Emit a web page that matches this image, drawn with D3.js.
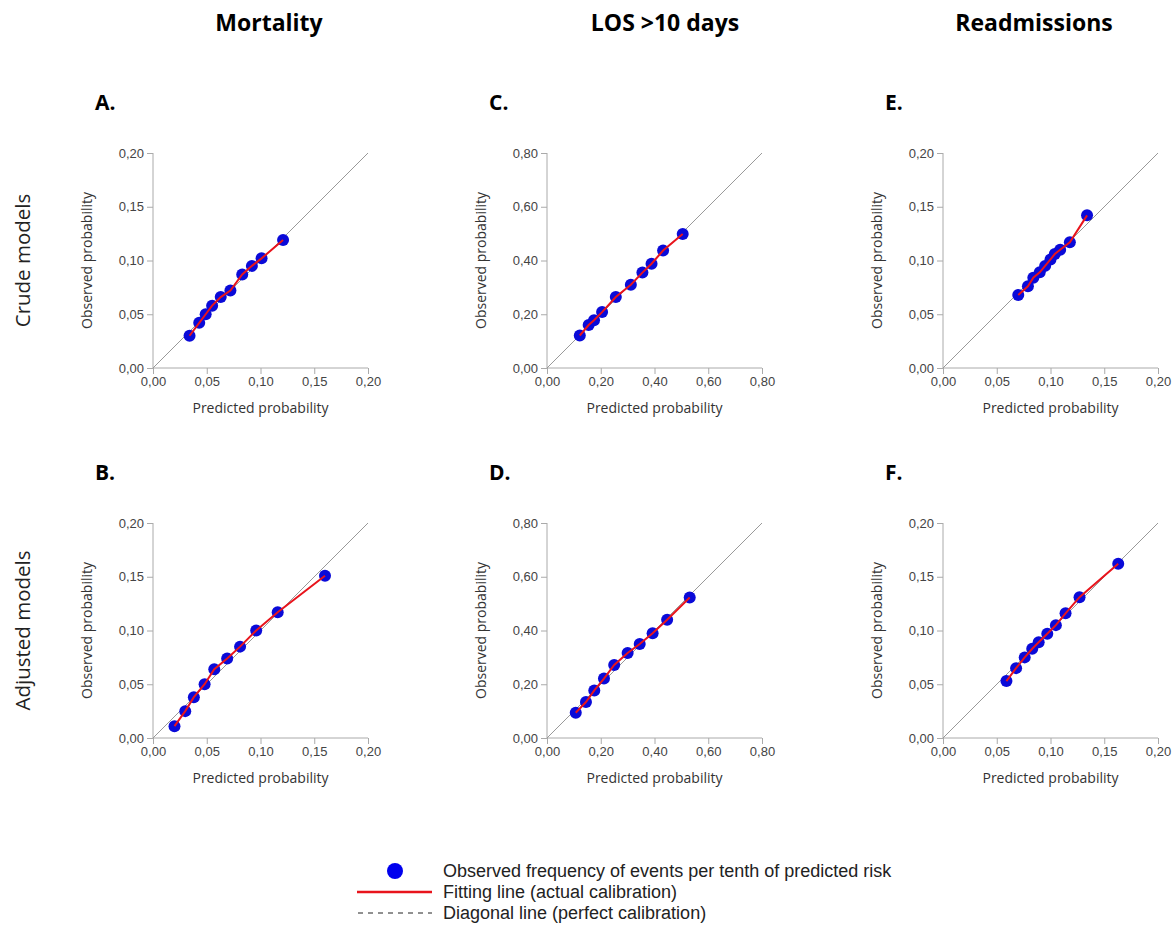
<!DOCTYPE html>
<html>
<head>
<meta charset="utf-8">
<script src="https://cdn.jsdelivr.net/npm/d3@7"></script>
<style>
  body { margin: 0; background: #fff; }
  svg { font-family: "Open Sans", sans-serif; }
  .axis path, .axis line { stroke: #aaa; }
  .axis text { fill: #444; font-size: 13px; }
</style>
</head>
<body>
<svg class="chart" width="1176" height="925"></svg>
<script>
const columnTitles = ["Mortality", "LOS >10 days", "Readmissions"],
      rowTitles = ["Crude models", "Adjusted models"],
      letters = ["A.", "C.", "E.", "B.", "D.", "F."],
      axisMax = [0.20, 0.80, 0.20],
      ticksSmall = [0, 0.05, 0.10, 0.15, 0.20],
      ticksLarge = [0, 0.20, 0.40, 0.60, 0.80],
      legendLabels = ["Observed frequency of events per tenth of predicted risk",
                      "Fitting line (actual calibration)",
                      "Diagonal line (perfect calibration)"]

// observed vs predicted, one pair per tenth of predicted risk
const predA = [0.034, 0.043, 0.049, 0.055, 0.063, 0.072, 0.083, 0.092, 0.101, 0.121],
      obsA  = [0.030, 0.042, 0.050, 0.058, 0.066, 0.072, 0.087, 0.095, 0.102, 0.119]
const predC = [0.122, 0.155, 0.175, 0.205, 0.256, 0.312, 0.355, 0.389, 0.432, 0.505],
      obsC  = [0.121, 0.160, 0.178, 0.208, 0.264, 0.310, 0.355, 0.388, 0.437, 0.499]
const predE = [0.070, 0.079, 0.084, 0.090, 0.095, 0.100, 0.104, 0.109, 0.118, 0.134],
      obsE  = [0.068, 0.076, 0.084, 0.089, 0.095, 0.101, 0.106, 0.110, 0.117, 0.142]
const predB = [0.020, 0.030, 0.038, 0.048, 0.057, 0.069, 0.081, 0.096, 0.116, 0.160],
      obsB  = [0.011, 0.025, 0.038, 0.050, 0.064, 0.074, 0.085, 0.100, 0.117, 0.151]
const predD = [0.107, 0.145, 0.176, 0.212, 0.250, 0.300, 0.345, 0.393, 0.447, 0.531],
      obsD  = [0.094, 0.134, 0.177, 0.221, 0.272, 0.316, 0.350, 0.390, 0.440, 0.523]
const predF = [0.059, 0.068, 0.076, 0.083, 0.089, 0.097, 0.105, 0.114, 0.127, 0.163],
      obsF  = [0.053, 0.065, 0.075, 0.083, 0.089, 0.097, 0.105, 0.116, 0.131, 0.162]

const panels = [
  { pred: predA, obs: obsA }, { pred: predC, obs: obsC }, { pred: predE, obs: obsE },
  { pred: predB, obs: obsB }, { pred: predD, obs: obsD }, { pred: predF, obs: obsF }
]

const locale = d3.formatLocale({ decimal: ",", thousands: ".", grouping: [3], currency: ["", ""] }),
      fmt = locale.format(".2f")

const size = 215,
      colLeft = [153, 547, 943],
      rowTop = [153, 523],
      titleX = [269, 665, 1034]

var chart = d3.select(".chart")

// column titles
chart.selectAll(".col-title")
  .data(columnTitles)
  .join("text")
    .attr("class", "col-title")
    .attr("x", function(d, i) { return titleX[i] })
    .attr("y", 31)
    .attr("text-anchor", "middle")
    .style("font-size", "23px")
    .style("font-weight", "bold")
    .text(function(d) { return d })

// row titles
chart.selectAll(".row-title")
  .data(rowTitles)
  .join("text")
    .attr("class", "row-title")
    .attr("transform", function(d, i) { return "translate(30," + (rowTop[i] + size / 2) + ") rotate(-90)" })
    .attr("text-anchor", "middle")
    .style("font-size", "20.5px")
    .attr("fill", "#222")
    .text(function(d) { return d })

panels.forEach(function(p, k) {
  var col = k % 3, row = Math.floor(k / 3),
      max = axisMax[col],
      ticks = max > 0.5 ? ticksLarge : ticksSmall

  var x = d3.scaleLinear().domain([0, max]).range([0, size]),
      y = d3.scaleLinear().domain([0, max]).range([size, 0])

  var g = chart.append("g")
    .attr("transform", "translate(" + colLeft[col] + "," + rowTop[row] + ")")

  g.append("text")
    .attr("x", -58)
    .attr("y", -43)
    .style("font-size", "21px")
    .style("font-weight", "bold")
    .text(letters[k])

  g.append("g")
    .attr("class", "axis")
    .attr("transform", "translate(0," + size + ")")
    .call(d3.axisBottom(x).tickValues(ticks).tickFormat(fmt).tickSize(6).tickPadding(3))
    .call(function(a) { a.select(".domain").attr("d", "M0,0H" + size) })

  g.append("g")
    .attr("class", "axis")
    .call(d3.axisLeft(y).tickValues(ticks).tickFormat(fmt).tickSize(6).tickPadding(3))
    .call(function(a) { a.select(".domain").attr("d", "M0,0V" + size) })

  g.append("text")
    .attr("x", size / 2)
    .attr("y", size + 45)
    .attr("text-anchor", "middle")
    .style("font-size", "14px")
    .attr("fill", "#333")
    .text("Predicted probability")

  g.append("text")
    .attr("transform", "rotate(-90)")
    .attr("x", -size / 2)
    .attr("y", -61)
    .attr("text-anchor", "middle")
    .style("font-size", "14px")
    .attr("fill", "#333")
    .text("Observed probability")

  // diagonal
  g.append("line")
    .attr("x1", x(0)).attr("y1", y(0))
    .attr("x2", x(max)).attr("y2", y(max))
    .attr("stroke", "#999")
    .attr("stroke-width", 1)

  var pts = p.pred.map(function(d, i) { return [d, p.obs[i]] })

  g.selectAll("circle")
    .data(pts)
    .join("circle")
      .attr("cx", function(d) { return x(d[0]) })
      .attr("cy", function(d) { return y(d[1]) })
      .attr("r", 6)
      .attr("fill", "#0a0ad8")

  g.append("path")
    .datum(pts)
    .attr("fill", "none")
    .attr("stroke", "#e8141c")
    .attr("stroke-width", 2)
    .attr("d", d3.line().x(function(d) { return x(d[0]) }).y(function(d) { return y(d[1]) }))
})

// legend
var lg = chart.append("g")
lg.append("circle").attr("cx", 395).attr("cy", 871).attr("r", 8).attr("fill", "#0000ee")
lg.append("line").attr("x1", 357).attr("x2", 432).attr("y1", 892).attr("y2", 892)
  .attr("stroke", "#e8141c").attr("stroke-width", 2.5)
lg.append("line").attr("x1", 358).attr("x2", 432).attr("y1", 913).attr("y2", 913)
  .attr("stroke", "#222").attr("stroke-width", 1).attr("stroke-dasharray", "5,5")
lg.selectAll(".leg-text")
  .data(legendLabels)
  .join("text")
    .attr("class", "leg-text")
    .attr("x", 443)
    .attr("y", function(d, i) { return 877 + i * 21 })
    .style("font-family", "'Liberation Sans', Arial, sans-serif")
    .style("font-size", "18px")
    .attr("fill", "#222")
    .text(function(d) { return d })
</script>
</body>
</html>
